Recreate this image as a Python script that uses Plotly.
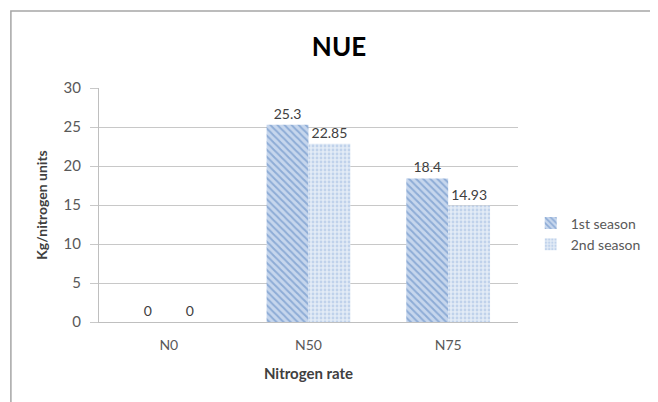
import plotly.graph_objects as go

categories = ["N0", "N50", "N75"]
season1 = [0, 25.3, 18.4]
season2 = [0, 22.85, 14.93]
season1_labels = ["0", "25.3", "18.4"]
season2_labels = ["0", "22.85", "14.93"]
y_ticks = [0, 5, 10, 15, 20, 25, 30]

FONT = "Lato, Open Sans, sans-serif"

fig = go.Figure()
fig.add_trace(go.Bar(
    name="1st season", x=categories, y=season1,
    text=season1_labels, textposition="outside", cliponaxis=False,
    textfont=dict(size=14, color="#404040"),
    marker=dict(color="#c6d6ed", line=dict(width=0),
                pattern=dict(shape="\\", fgcolor="#5582bf", bgcolor="#c6d6ed",
                             size=5, solidity=0.4, fillmode="overlay")),
))
fig.add_trace(go.Bar(
    name="2nd season", x=categories, y=season2,
    text=season2_labels, textposition="outside", cliponaxis=False,
    textfont=dict(size=14, color="#404040"),
    marker=dict(color="#e3ebf6", line=dict(width=0),
                pattern=dict(shape=".", fgcolor="#9db9e0", bgcolor="#e3ebf6",
                             size=4, solidity=0.4, fillmode="overlay")),
))

# page body has an 8px margin; design in screen coordinates and shift
OFF = 8
W, H = 650, 394
PL, PR, PT, PB = 99, 527, 88, 322  # target plot area on screen
L, T = PL - OFF, PT - OFF
R = W - L - (PR - PL)
B = H - T - (PB - PT)
def px(x):
    return (x - PL) / (PR - PL)
def py(y):
    return (PB - y) / (PB - PT)

fig.update_layout(
    width=W, height=H,
    margin=dict(l=L, r=R, t=T, b=B),
    paper_bgcolor="white", plot_bgcolor="white",
    barmode="group", bargap=0.4, bargroupgap=0,
    font=dict(family=FONT, color="#595959", size=14),
    title=dict(text="<b>NUE</b>", x=(339 - OFF) / W, xanchor="center",
               y=1 - (47 - OFF) / H, yanchor="middle",
               font=dict(size=26, color="#000000", family=FONT)),
    legend=dict(x=px(540), xanchor="left", y=py(234), yanchor="middle",
                font=dict(size=14, color="#595959"), tracegroupgap=2,
                itemwidth=30, bgcolor="rgba(0,0,0,0)"),
    xaxis=dict(title=dict(text="<b>Nitrogen rate</b>", standoff=16,
                          font=dict(size=15, color="#404040")),
               showline=True, linecolor="#bfbfbf", linewidth=1,
               tickfont=dict(size=14, color="#595959"), ticks="", showgrid=False,
               ticklabelstandoff=10),
    yaxis=dict(title=dict(text="<b>Kg/nitrogen units</b>", standoff=12,
                          font=dict(size=14, color="#404040")),
               range=[0, 30], tickvals=y_ticks, showline=True, linecolor="#bfbfbf",
               linewidth=1, gridcolor="#c8c8c8", gridwidth=1, ticks="outside",
               ticklen=8, tickcolor="#c8c8c8", zeroline=False, ticklabelstandoff=6,
               tickfont=dict(size=15, color="#595959")),
    shapes=[dict(type="rect", xref="paper", yref="paper",
                 x0=px(9), x1=px(670), y0=py(420), y1=py(11),
                 line=dict(color="#a6a6a6", width=1.5), fillcolor="rgba(0,0,0,0)",
                 layer="below")],
)

fig.write_html("out.html")
